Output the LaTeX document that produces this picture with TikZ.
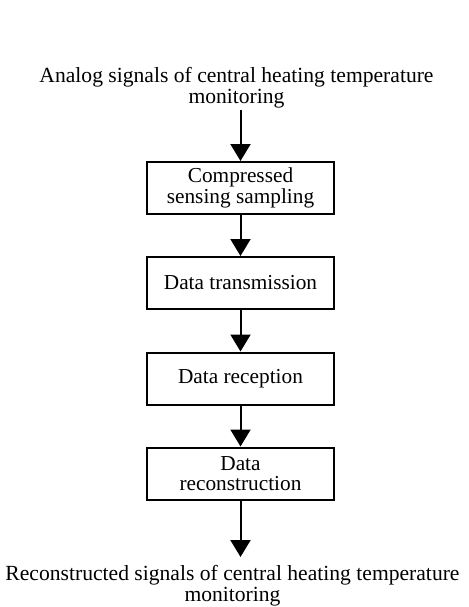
\documentclass[tikz,border=0pt]{standalone}
\usepackage{fontspec}
\setmainfont{Liberation Serif}
\usetikzlibrary{arrows.meta}
\begin{document}
\begin{tikzpicture}[x=1pt,y=-1pt,
  txt/.style={align=center,font=\fontsize{21.6}{21.5}\selectfont,inner sep=0pt},
  stepbox/.style={draw,line width=2pt,minimum width=187pt,minimum height=52pt,align=center,font=\fontsize{21.3}{20.5}\selectfont,inner sep=0pt},
  flow/.style={line width=2pt,-{Triangle[width=20pt,length=17pt]}}]
\useasboundingbox (0,0) rectangle (468,607);
\node[txt] (src) at (236.5,87.5) {Analog signals of central heating temperature\\monitoring};
\node[stepbox] (b1) at (240.5,188) {Compressed\\sensing sampling};
\node[stepbox] (b2) at (240.5,283) {Data transmission};
\node[stepbox] (b3) at (240.5,378.5) {Data reception};
\node[stepbox] (b4) at (240.5,473.5) {Data\\reconstruction};
\node[txt] (dst) at (232.5,585.5) {Reconstructed signals of central heating temperature\\monitoring};
\coordinate (s0) at (240.5,110);
\coordinate (e5) at (240.5,557);
\draw[flow] (s0) -- (b1.north);
\draw[flow] (b1) -- (b2);
\draw[flow] (b2) -- (b3);
\draw[flow] (b3) -- (b4);
\draw[flow] (b4.south) -- (e5);
\end{tikzpicture}
\end{document}
